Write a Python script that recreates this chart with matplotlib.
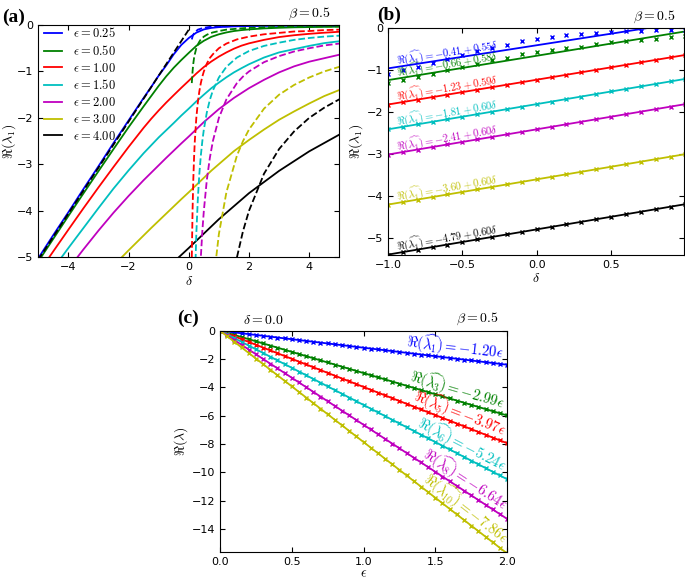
import matplotlib
matplotlib.use('Agg')
import matplotlib.pyplot as plt
import numpy as np

plt.rcParams['mathtext.fontset'] = 'cm'
plt.rcParams['font.size'] = 8
plt.rcParams['xtick.direction'] = 'in'
plt.rcParams['ytick.direction'] = 'in'
plt.rcParams['xtick.top'] = True
plt.rcParams['ytick.right'] = True

# ---- panel (a): Re(lambda_1) against delta, several epsilon
eps_a = [0.25, 0.50, 1.00, 1.50, 2.00, 3.00, 4.00]
kolory = ['b', 'g', 'r', 'c', 'm', 'y', 'k']

delta_a = [-5, -4.5, -4, -3.5, -3, -2.5, -2, -1.5, -1.25, -1, -0.75, -0.5, -0.25, 0,
           0.25, 0.5, 0.75, 1, 1.25, 1.5, 1.75, 2, 2.5, 3, 3.5, 4, 4.5, 5]
re_025 = [-5.02, -4.52, -4.03, -3.53, -3.04, -2.54, -2.055, -1.57, -1.335, -1.09, -0.87, -0.63, -0.43, -0.28,
          -0.165, -0.095, -0.062, -0.046, -0.0365, -0.03, -0.026, -0.0225, -0.018, -0.015, -0.013, -0.011, -0.01, -0.009]
re_050 = [-5.09, -4.60, -4.11, -3.625, -3.145, -2.67, -2.20, -1.75, -1.53, -1.31, -1.105, -0.92, -0.755, -0.60,
          -0.45, -0.34, -0.255, -0.20, -0.16, -0.13, -0.11, -0.095, -0.073, -0.06, -0.05, -0.045, -0.04, -0.036]
re_100 = [-5.34, -4.87, -4.405, -3.945, -3.495, -3.055, -2.625, -2.2125, -2.02, -1.84, -1.67, -1.51, -1.3525, -1.20,
          -1.045, -0.905, -0.785, -0.68, -0.59, -0.51, -0.445, -0.395, -0.32, -0.26, -0.22, -0.19, -0.166, -0.146]
re_150 = [-5.69, -5.24, -4.80, -4.37, -3.94, -3.52, -3.13, -2.76, -2.59, -2.42, -2.265, -2.11, -1.95, -1.80,
          -1.645, -1.50, -1.36, -1.24, -1.125, -1.02, -0.93, -0.845, -0.70, -0.59, -0.52, -0.45, -0.39, -0.35]
re_200 = [-6.11, -5.68, -5.25, -4.83, -4.425, -4.04, -3.68, -3.34, -3.18, -3.02, -2.86, -2.705, -2.55, -2.40,
          -2.245, -2.09, -1.95, -1.81, -1.69, -1.57, -1.465, -1.36, -1.18, -1.02, -0.89, -0.79, -0.715, -0.64]
re_300 = [-7.04, -6.64, -6.25, -5.88, -5.52, -5.18, -4.85, -4.53, -4.37, -4.215, -4.06, -3.905, -3.75, -3.60,
          -3.445, -3.29, -3.135, -2.995, -2.855, -2.715, -2.595, -2.475, -2.25, -2.04, -1.86, -1.69, -1.53, -1.40]
re_400 = [-8.08, -7.72, -7.36, -7.02, -6.68, -6.36, -6.04, -5.72, -5.57, -5.41, -5.26, -5.10, -4.95, -4.80,
          -4.645, -4.49, -4.335, -4.18, -4.04, -3.90, -3.76, -3.62, -3.38, -3.14, -2.93, -2.72, -2.54, -2.36]
re_solid = [re_025, re_050, re_100, re_150, re_200, re_300, re_400]

# przyblizenie dla duzych delta (linie przerywane)
delta_dash = [0.1, 0.125, 0.15, 0.175, 0.2, 0.25, 0.3, 0.35, 0.4, 0.45, 0.5, 0.6, 0.7, 0.8,
              1.0, 1.25, 1.6, 1.8, 2.0, 2.5, 3.0, 3.5, 4.0, 4.5, 5.0]
dash_025 = [-0.31, -0.25, -0.21, -0.18, -0.16, -0.13, -0.10, -0.09, -0.08, -0.07, -0.06, -0.05, -0.04,
            -0.04, -0.03, -0.03, -0.02, -0.02, -0.02, -0.01, -0.01, -0.01, -0.01, -0.01, -0.01]
dash_050 = [-1.25, -1.0, -0.83, -0.71, -0.63, -0.5, -0.42, -0.36, -0.31, -0.28, -0.25, -0.21, -0.18,
            -0.16, -0.13, -0.1, -0.08, -0.07, -0.06, -0.05, -0.04, -0.04, -0.03, -0.03, -0.03]
dash_100 = [-5.0, -4.0, -3.33, -2.86, -2.5, -2.0, -1.67, -1.43, -1.25, -1.11, -1.0, -0.83, -0.71,
            -0.63, -0.5, -0.4, -0.31, -0.28, -0.25, -0.2, -0.17, -0.14, -0.13, -0.11, -0.1]
dash_150 = [-11.25, -9.0, -7.5, -6.43, -5.63, -4.5, -3.75, -3.21, -2.81, -2.5, -2.25, -1.88, -1.61,
            -1.41, -1.13, -0.9, -0.7, -0.63, -0.56, -0.45, -0.38, -0.32, -0.28, -0.25, -0.23]
dash_200 = [-20, -16, -13.33, -11.43, -10, -8, -6.67, -5.71, -5.0, -4.44, -4.0, -3.33, -2.86,
            -2.5, -2.0, -1.6, -1.25, -1.11, -1.0, -0.8, -0.67, -0.57, -0.5, -0.44, -0.4]
dash_300 = [-45, -36, -30, -25.71, -22.5, -18, -15, -12.86, -11.25, -10, -9.0, -7.5, -6.43,
            -5.63, -4.5, -3.6, -2.81, -2.5, -2.25, -1.8, -1.5, -1.29, -1.13, -1.0, -0.9]
dash_400 = [-80, -64, -53.33, -45.71, -40, -32, -26.67, -22.86, -20, -17.78, -16, -13.33, -11.43,
            -10, -8, -6.4, -5.0, -4.44, -4.0, -3.2, -2.67, -2.29, -2.0, -1.78, -1.6]
re_dash = [dash_025, dash_050, dash_100, dash_150, dash_200, dash_300, dash_400]

asym_delta = [-5.0, 0.05]
asym_re = [-5.05, -0.05]

# ---- panel (b): dopasowania liniowe w [-1, 1]
fit_a0 = [-0.41, -0.66, -1.23, -1.81, -2.41, -3.60, -4.79]
fit_a1 = [0.55, 0.58, 0.59, 0.60, 0.60, 0.60, 0.60]
delta_b = [-1.0, -0.9, -0.8, -0.7, -0.6, -0.5, -0.4, -0.3, -0.2, -0.1, 0.0,
           0.1, 0.2, 0.3, 0.4, 0.5, 0.6, 0.7, 0.8, 0.9, 1.0]
mk_025 = [-1.09, -1.01, -0.92, -0.83, -0.73, -0.64, -0.55, -0.47, -0.40, -0.32, -0.27,
          -0.22, -0.17, -0.14, -0.11, -0.09, -0.08, -0.065, -0.055, -0.05, -0.045]
mk_050 = [-1.31, -1.23, -1.17, -1.09, -1.01, -0.93, -0.85, -0.77, -0.71, -0.63, -0.58,
          -0.53, -0.48, -0.44, -0.37, -0.34, -0.32, -0.28, -0.25, -0.21, -0.20]

# ---- panel (c): Re(lambda_n) against epsilon at delta = 0
n_c = [1, 3, 5, 6, 8, 10]
slope_c = [-1.20, -2.99, -3.97, -5.24, -6.64, -7.86]
kolory_c = ['b', 'g', 'r', 'c', 'm', 'y']
eps_c = np.arange(0, 2.0001, 0.05)

W, H = 685, 580
fig = plt.figure(figsize=(W / 100, H / 100), dpi=100)


def katy(ax, slopes):
    # kat nachylenia linii na ekranie (stopnie)
    x0, x1 = ax.get_xlim()
    y0, y1 = ax.get_ylim()
    pos = ax.get_position()
    sx = pos.width * W / (x1 - x0)
    sy = pos.height * H / (y1 - y0)
    return [np.degrees(np.arctan(s * sy / sx)) for s in slopes]


# (a)
ax = fig.add_axes([0.0559, 0.5564, 0.4394, 0.4005])
for e, k, y in zip(eps_a, kolory, re_solid):
    ax.plot(delta_a, y, color=k, lw=1.3, label=r'$\epsilon=%.2f$' % e)
for k, y in zip(kolory, re_dash):
    ax.plot(delta_dash, y, color=k, lw=1.3, ls='--')
ax.plot(asym_delta, asym_re, 'k--', lw=1.3)
ax.set_xlim(-5, 5)
ax.set_ylim(-5, 0)
ax.set_xticks([-4, -2, 0, 2, 4])
ax.set_xlabel(r'$\delta$', fontsize=10, labelpad=1)
ax.set_ylabel(r'$\Re(\lambda_1)$', fontsize=10, labelpad=-1)
ax.legend(loc='upper left', bbox_to_anchor=(0.015, 1.0), frameon=False, fontsize=9,
          handlelength=1.45, handletextpad=0.9, labelspacing=0.3, borderaxespad=0, borderpad=0.1)
ax.text(0.97, 1.015, r'$\beta = 0.5$', transform=ax.transAxes, ha='right', va='bottom', fontsize=10)
fig.text(0.003, 0.963, '(a)', fontsize=14, fontweight='bold', family='Liberation Serif')

# (b)
ax = fig.add_axes([0.5664, 0.5603, 0.4321, 0.3914])
for i, k in enumerate(kolory):
    x = np.array([-1.0, 1.0])
    ax.plot(x, fit_a0[i] + fit_a1[i] * x, color=k, lw=1.3)
ax.plot(delta_b, mk_025, 'x', color='b', ms=3.5, mew=1)
ax.plot(delta_b, mk_050, 'x', color='g', ms=3.5, mew=1)
db = np.array(delta_b)
for i in range(2, 7):
    ax.plot(db, fit_a0[i] + fit_a1[i] * db, 'x', color=kolory[i], ms=3.5, mew=1)
ax.set_xlim(-1, 0.99)
ax.set_ylim(-5.4, 0)
rot_b = katy(ax, fit_a1)
for i, k in enumerate(kolory):
    x0 = -0.94
    ax.annotate(r'$\Re(\widehat{\lambda_1}) = -%.2f + %.2f\delta$' % (-fit_a0[i], fit_a1[i]),
                xy=(x0, fit_a0[i] + fit_a1[i] * x0), xytext=(0, 2), textcoords='offset points',
                color=k, fontsize=7.6, ha='left', va='baseline',
                rotation=rot_b[i], rotation_mode='anchor')
ax.set_xticks([-1.0, -0.5, 0.0, 0.5])
ax.set_xlabel(r'$\delta$', fontsize=10, labelpad=1)
ax.set_ylabel(r'$\Re(\lambda_1)$', fontsize=10, labelpad=1)
ax.text(0.97, 1.015, r'$\beta = 0.5$', transform=ax.transAxes, ha='right', va='bottom', fontsize=10)
fig.text(0.551, 0.965, '(b)', fontsize=14, fontweight='bold', family='Liberation Serif')

# (c)
ax = fig.add_axes([0.3212, 0.0488, 0.419, 0.381])
for s, k in zip(slope_c, kolory_c):
    ax.plot(eps_c, s * eps_c, color=k, lw=1.3, marker='x', ms=3.5, mew=1)
ax.set_xlim(0, 2)
ax.set_ylim(-15.6, 0)
rot_c = katy(ax, slope_c)
for n, s, k, r in zip(n_c, slope_c, kolory_c, rot_c):
    x0 = 1.97
    ax.annotate(r'$\Re(\widehat{\lambda_{%d}}) = -%.2f\epsilon$' % (n, -s),
                xy=(x0, s * x0), xytext=(0, 4), textcoords='offset points',
                color=k, fontsize=10.5, ha='right', va='baseline',
                rotation=r, rotation_mode='anchor')
ax.set_xticks([0.0, 0.5, 1.0, 1.5, 2.0])
ax.set_yticks([0, -2, -4, -6, -8, -10, -12, -14])
ax.set_xlabel(r'$\epsilon$', fontsize=10, labelpad=0)
ax.set_ylabel(r'$\Re(\lambda)$', fontsize=10, labelpad=1)
ax.text(0.97, 1.015, r'$\beta = 0.5$', transform=ax.transAxes, ha='right', va='bottom', fontsize=10)
ax.text(0.08, 1.015, r'$\delta = 0.0$', transform=ax.transAxes, ha='left', va='bottom', fontsize=10)
fig.text(0.259, 0.443, '(c)', fontsize=14, fontweight='bold', family='Liberation Serif')

fig.savefig('out.png', dpi=100)
